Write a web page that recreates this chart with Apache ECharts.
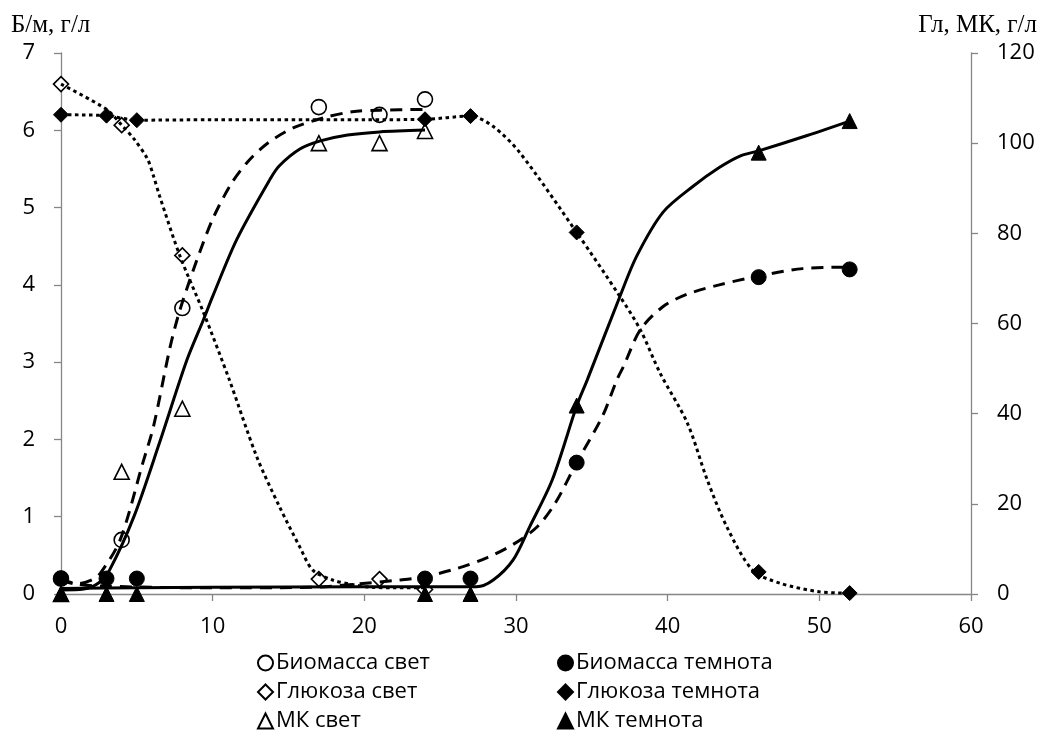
<!DOCTYPE html>
<html>
<head>
<meta charset="utf-8">
<script src="https://cdn.jsdelivr.net/npm/echarts@6/dist/echarts.min.js"></script>
<style>html,body{margin:0;padding:0;background:#fff}#c{width:1041px;height:733px}</style>
</head>
<body>
<div id="c"></div>
<script>
// ---- measured points (x = time, h) ----
const biomassLight = [[0,0.2],[4,0.7],[8,3.7],[17,6.3],[21,6.2],[24,6.4]];           // left axis
const biomassDark  = [[0,0.2],[3,0.2],[5,0.2],[24,0.2],[27,0.2],[34,1.7],[46,4.1],[52,4.2]]; // left axis
const glucoseLight = [[0,113.1],[4,104],[8,75.1],[17,3.3],[21,3.3],[24,1]];            // right axis
const glucoseDark  = [[0,106.3],[3,106.1],[5,105.1],[24,105.3],[27,106],[34,80.2],[46,4.9],[52,0.2]]; // right axis
const mkLight      = [[0,0],[4,27.1],[8,41.1],[17,100],[21,100],[24,102.7]];            // right axis
const mkDark       = [[0,0],[3,0],[5,0],[24,0],[27,0],[34,41.8],[46,97.9],[52,104.9]];  // right axis

// ---- fitted curves ----
const biomassLightFit = [[0,0.18],[1,0.13],[2,0.18],[2.6,0.27],[3.9,0.7],[5.4,1.7],[6.1,2.17],[7.2,3.2],[7.85,3.68],[8.9,4.29],[10,4.85],[11.2,5.3],[12.3,5.59],[13.6,5.83],[15.3,6.03],[17.5,6.17],[19.2,6.24],[21,6.26],[24,6.27]];
const biomassDarkFit = [[0,0.2],[1,0.13],[3,0.1],[10,0.08],[17,0.09],[19.5,0.13],[22.3,0.18],[23.9,0.22],[26.1,0.33],[28.1,0.47],[29.8,0.64],[31.4,0.87],[32.6,1.18],[34,1.7],[35.7,2.3],[36.65,2.77],[37.1,2.95],[38.2,3.42],[39.7,3.72],[41.3,3.88],[43.4,4.0],[45.9,4.11],[48.9,4.21],[52,4.23]];
const glucoseLightFit = [[0,113.1],[3,107.5],[4,104],[4.8,101],[5.7,96.5],[6.1,92.7],[6.5,88.3],[7.85,74.9],[9.4,62.4],[11.1,47.5],[12.9,30.5],[14.4,19.4],[15.75,10.4],[16.6,5.3],[17.9,3.1],[19.2,2.1],[20.4,1.5],[22,1.4],[24,1.4]];
const glucoseDarkFit = [[0,106.3],[3,106.1],[5,105.1],[10,105.2],[20,105.2],[24,105.3],[27,106],[28.5,103.7],[30.25,97.9],[34,80.2],[36.85,66],[38.2,58.6],[39.5,49],[41.3,37.9],[42.6,25.4],[43.9,14.9],[45.6,5.3],[47.4,2.4],[50,0.5],[52,0.2]];
const mkLightFit = [[0,0.9],[1.5,1.1],[2.5,2.5],[3.2,5.3],[4.8,17.1],[6.5,33.6],[8.3,51.9],[9.4,60.9],[10,66],[11.6,78.7],[13.8,92.1],[14.4,95],[15.75,98.7],[17.1,100.5],[18.9,101.8],[21,102.5],[24,102.9]];
const mkDarkFit = [[0,1.2],[5,1.4],[10,1.5],[20,1.6],[27.4,1.6],[28.5,3.1],[29.8,7.5],[30.9,14.9],[32.4,25.4],[34,41.7],[34.7,47.5],[36.85,66],[37.95,74.9],[39.7,84.7],[41.7,90.5],[43.4,94.6],[44.8,97.2],[46,98.3],[49.2,101.7],[52,104.9]];

const names = ['Биомасса свет','Биомасса темнота','Глюкоза свет','Глюкоза темнота','МК свет','МК темнота'];
const leftAxisName = 'Б/м, г/л';
const rightAxisName = 'Гл, МК, г/л';

const FONT = '"Open Sans"';
const FS = 22;
const axisGray = '#868686';

function scatter(name, data, yIdx, symbol, filled) {
  return {
    name, type: 'scatter', data, yAxisIndex: yIdx, symbol, symbolSize: 15, z: 2,
    itemStyle: filled ? {color:'#000', borderColor:'#000', borderWidth:1, opacity: 1}
                      : {color:'#fff', borderColor:'#000', borderWidth:1.6, opacity: 1}
  };
}
function curve(data, yIdx, type) {
  return {
    type: 'line', data, yAxisIndex: yIdx, showSymbol: false, symbol: 'none', silent: true,
    smooth: 0.3, z: 3,
    lineStyle: {color:'#000', width: 3, type: type, cap: 'butt'}
  };
}
function legendCol(items, left) {
  return {
    data: items, orient: 'vertical', left: left, top: 652, height: 120, padding: 0,
    itemWidth: 15, itemHeight: 15, itemGap: 7, selectedMode: false,
    itemStyle: {opacity: 1},
    textStyle: {color: '#000', fontSize: FS, fontFamily: FONT, lineHeight: 22, padding: [0,0,0,-2]}
  };
}

const chart = echarts.init(document.getElementById('c'), null, {renderer:'canvas'});
chart.setOption({
  animation: false,
  backgroundColor: '#fff',
  textStyle: {fontFamily: FONT},
  grid: {left: 61, right: 70, top: 53, bottom: 139},
  xAxis: {
    type: 'value', min: 0, max: 60, interval: 10,
    axisLine: {show: true, onZero: false, lineStyle: {color: axisGray, width: 1.3}},
    axisTick: {show: true, length: 7, lineStyle: {color: axisGray, width: 1.3}},
    axisLabel: {color: '#000', fontSize: FS, fontFamily: FONT, margin: 22},
    splitLine: {show: false}
  },
  yAxis: [
    {
      type: 'value', min: 0, max: 7, interval: 1, position: 'left',
      axisLine: {show: true, lineStyle: {color: axisGray, width: 1.3}},
      axisTick: {show: true, length: 7, lineStyle: {color: axisGray, width: 1.3}},
      axisLabel: {color: '#000', fontSize: FS, fontFamily: FONT, margin: 26},
      splitLine: {show: false}
    },
    {
      type: 'value', min: 0, max: 120, interval: 20, position: 'right',
      axisLine: {show: true, lineStyle: {color: axisGray, width: 1.3}},
      axisTick: {show: true, length: 7, lineStyle: {color: axisGray, width: 1.3}},
      axisLabel: {color: '#000', fontSize: FS, fontFamily: FONT, margin: 26},
      splitLine: {show: false}
    }
  ],
  legend: [
    legendCol([names[0], names[2], names[4]], 257),
    legendCol([names[1], names[3], names[5]], 557)
  ],
  graphic: [
    {type: 'text', left: 11, top: 13, style: {text: leftAxisName, font: '25px "Liberation Serif"', fill: '#000'}},
    {type: 'text', right: 4, top: 13, style: {text: rightAxisName, font: '25px "Liberation Serif"', fill: '#000'}}
  ],
  series: [
    scatter(names[0], biomassLight, 0, 'circle', false),
    scatter(names[2], glucoseLight, 1, 'diamond', false),
    scatter(names[4], mkLight, 1, 'triangle', false),
    scatter(names[1], biomassDark, 0, 'circle', true),
    scatter(names[3], glucoseDark, 1, 'diamond', true),
    scatter(names[5], mkDark, 1, 'triangle', true),
    curve(biomassLightFit, 0, [12, 8]),
    curve(biomassDarkFit, 0, [12, 8]),
    curve(glucoseLightFit, 1, [3.5, 3.5]),
    curve(glucoseDarkFit, 1, [3.5, 3.5]),
    curve(mkLightFit, 1, 'solid'),
    curve(mkDarkFit, 1, 'solid')
  ]
});
</script>
</body>
</html>
